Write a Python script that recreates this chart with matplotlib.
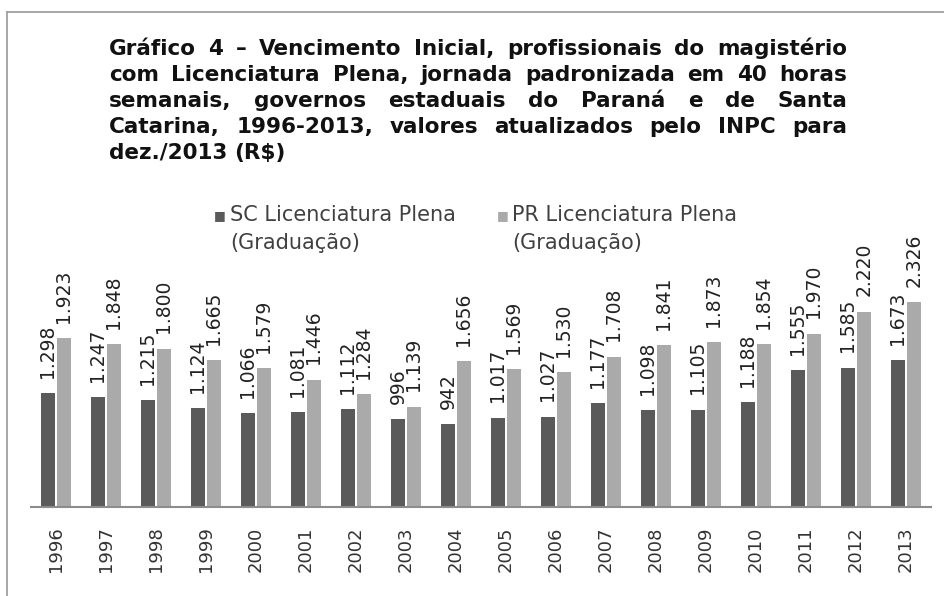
import matplotlib
matplotlib.use("Agg")
import matplotlib.pyplot as plt
from matplotlib.lines import Line2D
import numpy as np

anos = ["1996", "1997", "1998", "1999", "2000", "2001", "2002", "2003", "2004",
        "2005", "2006", "2007", "2008", "2009", "2010", "2011", "2012", "2013"]
sc = [1298, 1247, 1215, 1124, 1066, 1081, 1112, 996, 942,
      1017, 1027, 1177, 1098, 1105, 1188, 1555, 1585, 1673]
pr = [1923, 1848, 1800, 1665, 1579, 1446, 1284, 1139, 1656,
      1569, 1530, 1708, 1841, 1873, 1854, 1970, 2220, 2326]
serie_sc = ["SC Licenciatura Plena", "(Graduação)"]
serie_pr = ["PR Licenciatura Plena", "(Graduação)"]
titulo = ["Gráfico 4 – Vencimento Inicial, profissionais do magistério",
          "com Licenciatura Plena, jornada padronizada em 40 horas",
          "semanais, governos estaduais do Paraná e de Santa",
          "Catarina, 1996-2013, valores atualizados pelo INPC para",
          "dez./2013 (R$)"]

W, H = 945, 596
cor_sc = "#5a5a5a"
cor_pr = "#aaaaaa"


def fx(x):
    return x / W


def fy(y):
    return 1 - y / H


fig = plt.figure(figsize=(W / 100, H / 100), dpi=100)
fig.patch.set_facecolor("white")

# moldura (so esquerda e topo aparecem)
fig.add_artist(Line2D([fx(7), fx(7)], [0, fy(12)], transform=fig.transFigure,
                      color="#a0a0a0", lw=1.3))
fig.add_artist(Line2D([fx(7), 1], [fy(12), fy(12)], transform=fig.transFigure,
                      color="#a0a0a0", lw=1.3))

ax = fig.add_axes([fx(31), fy(507), 900 / W, 277 / H])
x = np.arange(len(anos))
w = 0.27
b1 = ax.bar(x - 0.16, sc, w, color=cor_sc)
b2 = ax.bar(x + 0.16, pr, w, color=cor_pr)

for barras, vals in ((b1, sc), (b2, pr)):
    for r, v in zip(barras, vals):
        ax.annotate(f"{v:,}".replace(",", "."),
                    (r.get_x() + r.get_width() / 2, r.get_height()),
                    xytext=(0, 11), textcoords="offset points",
                    rotation=90, ha="center", va="bottom",
                    fontsize=13.5, color="#222222")

ax.set_xlim(-0.5, len(anos) - 0.5)
ax.set_ylim(0, 3148)
ax.set_yticks([])
ax.set_xticks(x)
ax.set_xticklabels(anos, rotation=90, fontsize=13, color="#333333")
ax.tick_params(axis="x", length=0, pad=14)
for s in ("top", "right", "left"):
    ax.spines[s].set_visible(False)
ax.spines["bottom"].set_color("#8c8c8c")
ax.spines["bottom"].set_linewidth(1.5)
ax.patch.set_alpha(0)

# legenda
for xq, xt, lab, cor in ((214, 230, serie_sc, cor_sc), (497, 512, serie_pr, cor_pr)):
    fig.text(fx(xq), fy(219), "■", color=cor, fontsize=9, va="baseline")
    fig.text(fx(xt), fy(221), lab[0], color="#404040", fontsize=15, va="baseline")
    fig.text(fx(xt), fy(249), lab[1], color="#404040", fontsize=15, va="baseline")

# titulo justificado
renderer = fig.canvas.get_renderer()
x0, x1 = 109, 847
for i, linha in enumerate(titulo):
    yb = fy(55 + i * 26)
    palavras = linha.split(" ")
    textos = [fig.text(0, yb, p, fontsize=15.5, fontweight="bold",
                       va="baseline", color="#111111") for p in palavras]
    larg = [t.get_window_extent(renderer).width for t in textos]
    if i < len(titulo) - 1 and len(palavras) > 1:
        gap = (x1 - x0 - sum(larg)) / (len(palavras) - 1)
    else:
        gap = 7
    xc = x0
    for t, lw in zip(textos, larg):
        t.set_x(fx(xc))
        xc += lw + gap

fig.savefig("out.png", dpi=100)
